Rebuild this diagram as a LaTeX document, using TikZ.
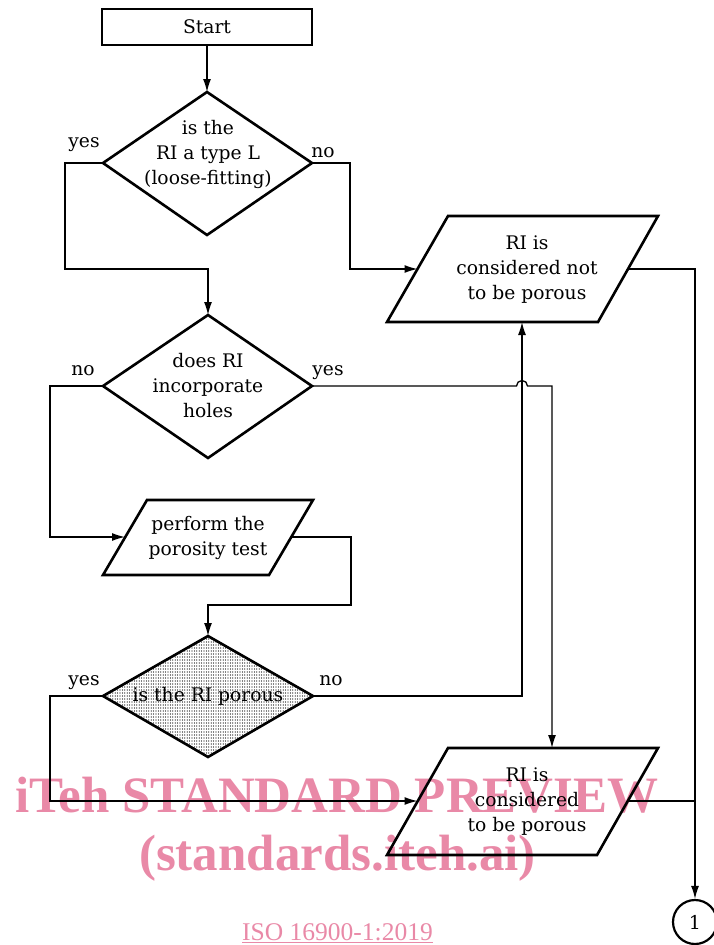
\documentclass[tikz,border=0pt]{standalone}
\usepackage{fontspec}
\setmainfont{DejaVu Serif}
\newfontfamily\wmfont{Liberation Serif}
\usetikzlibrary{arrows.meta,patterns}
\definecolor{wmpink}{RGB}{233,137,167}
\pgfdeclarepatternformonly{finedots}{\pgfpoint{-1pt}{-1pt}}{\pgfpoint{1pt}{1pt}}{\pgfpoint{2.4pt}{3pt}}{\pgfpathcircle{\pgfpointorigin}{0.62pt}\pgfusepath{fill}}
\begin{document}
\begin{tikzpicture}[x=1pt,y=-1pt,
  shapeline/.style={line width=2.6pt, line join=miter},
  conn/.style={line width=1.3pt,-{Latex[length=13pt,width=8pt]}},
  plainconn/.style={line width=1.3pt},
  txt/.style={font=\fontsize{18.7}{25}\selectfont, align=center, inner sep=0pt},
  lbl/.style={font=\fontsize{18.7}{25}\selectfont, inner sep=0pt, anchor=base},
  startbox/.style={draw, line width=2.6pt, minimum width=210pt, minimum height=36pt, inner sep=0pt, font=\fontsize{18.7}{25}\selectfont},
  connector/.style={draw, circle, line width=2.2pt, minimum size=44pt, inner sep=0pt, font=\fontsize{19}{25}\selectfont},
  wm/.style={font=\wmfont\bfseries\fontsize{51}{51}\selectfont, text=wmpink, inner sep=0pt, anchor=base},
  wmsmall/.style={font=\wmfont\fontsize{25.5}{26}\selectfont, text=wmpink, inner sep=0pt, anchor=base},
]
\useasboundingbox (0,0) rectangle (713,945);

% watermark (behind)
\node[wm] (wm1) at (337,812) {iTeh STANDARD PREVIEW};
\node[wm] (wm2) at (337.5,870) {(standards.iteh.ai)};
\node[wmsmall] (wm3) at (337.5,940) {\underline{ISO 16900-1:2019}};

% coordinates of shapes
\coordinate (d1t) at (207,92);  \coordinate (d1r) at (312,163);
\coordinate (d1b) at (207,235); \coordinate (d1l) at (103,163);
\coordinate (d2t) at (208,315); \coordinate (d2r) at (312,386);
\coordinate (d2b) at (208,458); \coordinate (d2l) at (103,386);
\coordinate (d3t) at (208,636); \coordinate (d3r) at (313,696);
\coordinate (d3b) at (208,757); \coordinate (d3l) at (103,696);

\coordinate (p1a) at (448,216); \coordinate (p1b) at (658,216);
\coordinate (p1c) at (598,322); \coordinate (p1d) at (387,322);
\coordinate (p1l) at (417.5,269); \coordinate (p1r) at (628,269);
\coordinate (p1in) at (522,322);

\coordinate (p2a) at (147,500); \coordinate (p2b) at (313,500);
\coordinate (p2c) at (269,575); \coordinate (p2d) at (103,575);
\coordinate (p2l) at (125,537); \coordinate (p2r) at (291,537);

\coordinate (p3a) at (448,748); \coordinate (p3b) at (658,748);
\coordinate (p3c) at (597,855); \coordinate (p3d) at (387,855);
\coordinate (p3l) at (417.5,801); \coordinate (p3r) at (627.5,801);
\coordinate (p3in) at (552,748);

\coordinate (j1) at (65,269);  \coordinate (j2) at (350,269);
\coordinate (j3) at (50,537);  \coordinate (j4) at (351,605);
\coordinate (j5) at (50,801);  \coordinate (j6) at (695,801);
\coordinate (hopa) at (516.5,386);

% shapes
\node[startbox] (start) at (207,27) {Start};
\draw[shapeline] (d1t) -- (d1r) -- (d1b) -- (d1l) -- cycle;
\draw[shapeline] (d2t) -- (d2r) -- (d2b) -- (d2l) -- cycle;
\fill[pattern=finedots] (d3t) -- (d3r) -- (d3b) -- (d3l) -- cycle;
\draw[shapeline] (d3t) -- (d3r) -- (d3b) -- (d3l) -- cycle;
\draw[shapeline] (p1a) -- (p1b) -- (p1c) -- (p1d) -- cycle;
\draw[shapeline] (p2a) -- (p2b) -- (p2c) -- (p2d) -- cycle;
\draw[shapeline] (p3a) -- (p3b) -- (p3c) -- (p3d) -- cycle;
\node[connector] (c1) at (695,922) {1};

% texts
\node[txt] (t1) at (208,154) {is the\\RI a type L\\(loose-fitting)};
\node[txt] (t2) at (208,386) {does RI\\incorporate\\holes};
\node[txt] (t3) at (208,538) {perform the\\porosity test};
\node[txt] (t4) at (208,696) {is the RI porous};
\node[txt] (t5) at (527,270) {RI is\\considered not\\to be porous};
\node[txt] (t6) at (527,802) {RI is\\considered\\to be porous};

% labels
\node[lbl] (l1) at (84,147) {yes};
\node[lbl] (l2) at (323,157) {no};
\node[lbl] (l3) at (83,375) {no};
\node[lbl] (l4) at (328,375) {yes};
\node[lbl] (l5) at (84,685) {yes};
\node[lbl] (l6) at (331,685) {no};

% connectors
\draw[conn] (start) -- (d1t);
\draw[conn] (d1l) -| (j1) -| (d2t);
\draw[conn] (d1r) -| (j2) -- (p1l);
\draw[conn] (p1r) -| (c1);
\draw[conn] (d2l) -| (j3) -- (p2l);
\draw[conn] (d2r) -- (hopa) arc[start angle=180, end angle=0, radius=5.5pt] -| (p3in);
\draw[conn] (p2r) -| (j4) -| (d3t);
\draw[conn] (d3r) -| (p1in);
\draw[conn] (d3l) -| (j5) -- (p3l);
\draw[plainconn] (p3r) -- (j6);
\end{tikzpicture}
\end{document}
